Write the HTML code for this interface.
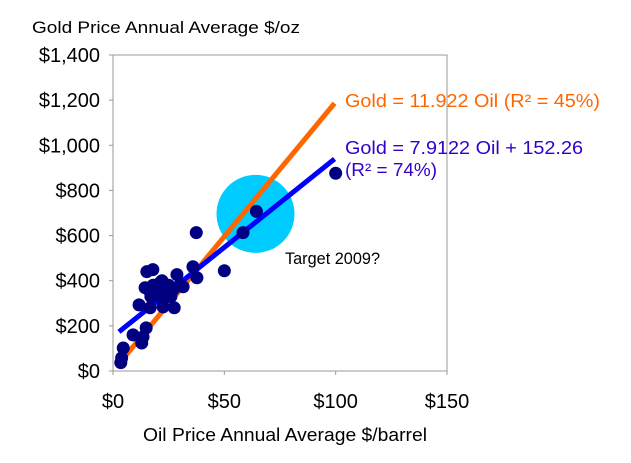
<!DOCTYPE html>
<html><head><meta charset="utf-8"><style>
body{margin:0;background:#fff;}
svg{display:block;font-family:"Liberation Sans",sans-serif;}
</style></head><body>
<svg id="c" width="631" height="463" viewBox="0 0 631 463">
<text x="32" y="33" font-size="17" fill="#000" textLength="268" lengthAdjust="spacingAndGlyphs">Gold Price Annual Average $/oz</text>
<text x="143" y="441" font-size="18" fill="#000" textLength="284" lengthAdjust="spacingAndGlyphs">Oil Price Annual Average $/barrel</text>
<rect x="113" y="55" width="334" height="316" fill="none" stroke="#999" stroke-width="1"/>
<g id="yt"></g><g id="xt"></g>
<circle id="target" fill="#00CCFF"/>
<g id="lines"></g>
<g id="pts"></g>
<text x="345" y="107" font-size="18" fill="#FF6600" textLength="255" lengthAdjust="spacingAndGlyphs">Gold = 11.922 Oil  (R² = 45%)</text>
<text x="345" y="154" font-size="18" fill="#3300CC" textLength="238" lengthAdjust="spacingAndGlyphs">Gold = 7.9122 Oil + 152.26</text>
<text x="345" y="176" font-size="18" fill="#3300CC" textLength="92" lengthAdjust="spacingAndGlyphs">(R² = 74%)</text>
<text x="285" y="264" font-size="17" fill="#000" textLength="95" lengthAdjust="spacingAndGlyphs">Target 2009?</text>
</svg>
<script>
const oil=[3.5,3.9,4.6,9,12.9,13.5,14.9,11.7,16.7,14.4,15.2,17.9,22.5,22.5,27.5,28.7,31.5,35.9,37.7,37.4,50,58.4,64.4,100,16,18,20,21,19,24,26,25,22,17,27,30];
const gold=[37,58,102,160,124,151,191,293,280,369,440,449,316,284,280,427,373,462,413,613,444,613,707,876,360,380,370,390,340,350,330,380,400,330,360,380];
const yTicks=[0,200,400,600,800,1000,1200,1400];
const yLabels=["$0","$200","$400","$600","$800","$1,000","$1,200","$1,400"];
const xTicks=[0,50,100,150];
const xLabels=["$0","$50","$100","$150"];
const fitOrange=[11.922,0];
const fitBlue=[7.9122,152.26];
const target=[64,696];
const NS="http://www.w3.org/2000/svg";
const X=v=>113+v*334/150, Y=v=>371-v*316/1400;
function mk(t,a,p){const e=document.createElementNS(NS,t);for(const k in a)e.setAttribute(k,a[k]);p.appendChild(e);return e;}
const yt=document.getElementById('yt'),xt=document.getElementById('xt');
yTicks.forEach((v,i)=>{
 const l=mk('line',{x1:109,x2:113,y1:Y(v),y2:Y(v),stroke:'#999'},yt);
 
 
 const t=mk('text',{x:100,y:Y(v)+7,'font-size':20,'text-anchor':'end',fill:'#000'},yt);
 t.textContent=yLabels[i];
 
 
});
xTicks.forEach((v,i)=>{
 const l=mk('line',{x1:X(v),x2:X(v),y1:371,y2:375,stroke:'#999'},xt);
 
 
 const t=mk('text',{x:X(v),y:408,'font-size':20,'text-anchor':'middle',fill:'#000'},xt);
 t.textContent=xLabels[i];
 
 
});
const c=document.getElementById('target');
c.setAttribute('cx',X(target[0]));c.setAttribute('cy',Y(target[1]));c.setAttribute('r',39);
const lg=document.getElementById('lines');
const lo=mk('line',{x1:X(3),y1:Y(fitOrange[0]*3+fitOrange[1]),x2:X(99.5),y2:Y(fitOrange[0]*99.5+fitOrange[1]),stroke:'#FF6600','stroke-width':5},lg);


const lb=mk('line',{x1:X(2.7),y1:Y(fitBlue[0]*2.7+fitBlue[1]),x2:X(99.5),y2:Y(fitBlue[0]*99.5+fitBlue[1]),stroke:'#0000FF','stroke-width':5},lg);


const pg=document.getElementById('pts');
oil.forEach((o,i)=>{
 const p=mk('circle',{cx:X(o),cy:Y(gold[i]),r:6.5,fill:'#000080'},pg);
 
 
});
</script>
</body></html>
